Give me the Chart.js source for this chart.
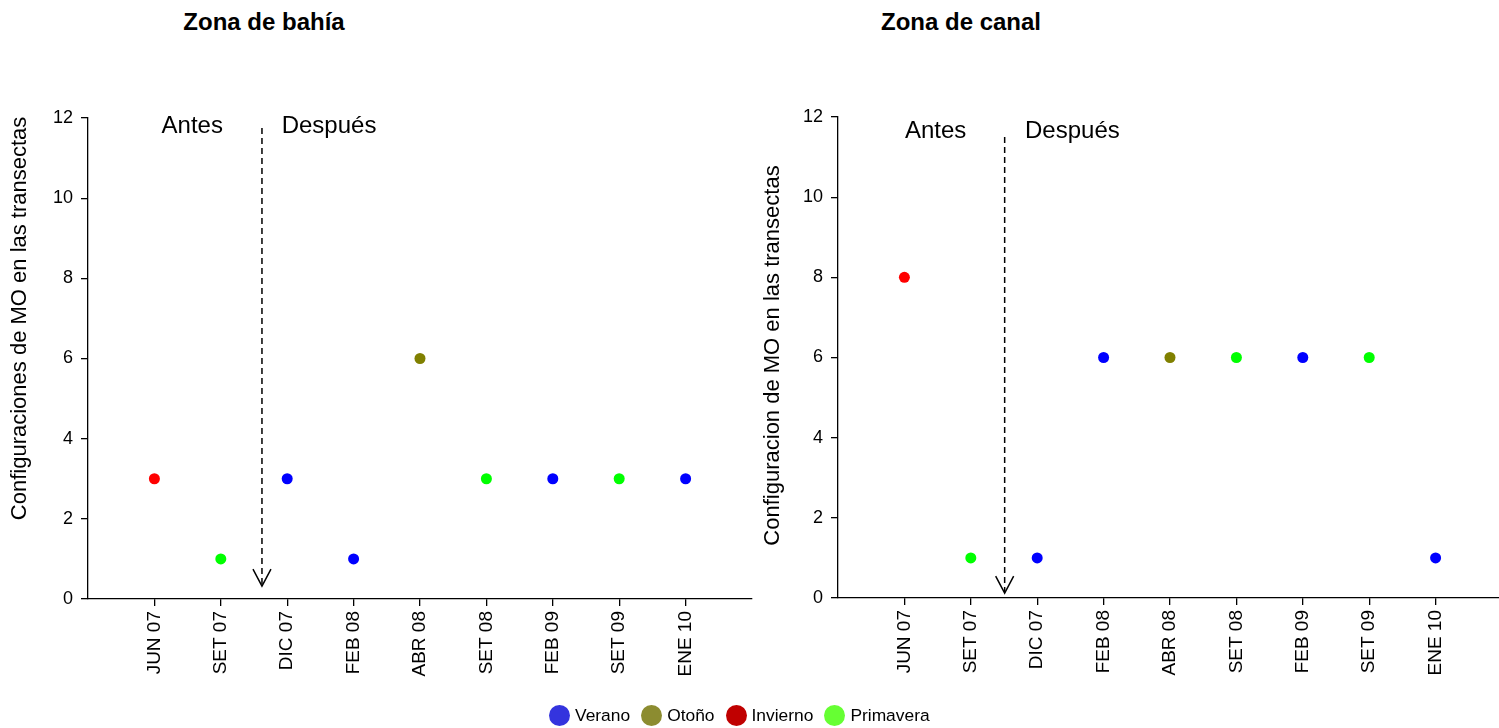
<!DOCTYPE html>
<html><head><meta charset="utf-8">
<script src="https://cdn.jsdelivr.net/npm/chart.js@4"></script>
<style>
html,body{margin:0;padding:0;background:#fff}
body{width:1499px;height:728px;overflow:hidden;position:relative;font-family:"Liberation Sans",Arial,sans-serif;color:#000}
.ttl{position:absolute;top:8px;font-weight:bold;font-size:24px;transform:translateX(-50%);white-space:nowrap}
canvas{position:absolute;top:0}
#legend{position:absolute;top:704px;left:549px;display:flex;align-items:center;font-size:17.4px;white-space:nowrap;height:22px}
#legend span.dot{display:inline-block;width:21px;height:21px;border-radius:50%;margin-right:5px}
#legend span.item{display:flex;align-items:center;margin-right:11px}
</style>
</head><body>
<div class="ttl" style="left:264px">Zona de bahía</div>
<div class="ttl" style="left:961px">Zona de canal</div>
<canvas id="c1" width="760" height="728" style="left:0px;top:1px"></canvas>
<canvas id="c2" width="760" height="728" style="left:750px;top:0px"></canvas>
<div id="legend"></div>
<script>
// ---- data ----
const categories = ['JUN 07','SET 07','DIC 07','FEB 08','ABR 08','SET 08','FEB 09','SET 09','ENE 10'];
const seasons = ['Invierno','Primavera','Verano','Verano','Otoño','Primavera','Verano','Primavera','Verano'];
const bahiaValues = [3,1,3,1,6,3,3,3,3];
const canalValues = [8,1,1,6,6,6,6,6,1];
const yTickValues = [0,2,4,6,8,10,12];
const legendSeasons = ['Verano','Otoño','Invierno','Primavera'];
const pointColors = {Verano:'#0000ff', 'Otoño':'#808000', Invierno:'#ff0000', Primavera:'#00ff00'};
const legendColors = {Verano:'#3434de', 'Otoño':'#8c8c30', Invierno:'#c00000', Primavera:'#66ff33'};

const FONT = '"Liberation Sans", Arial, sans-serif';

const annotPlugin = {
  id: 'annot',
  afterDraw(chart) {
    const o = chart.options.plugins.annot;
    const xs = chart.scales.x, ys = chart.scales.y, ctx = chart.ctx;
    ctx.save();
    // dashed arrow
    const ax = xs.getPixelForValue(o.arrowX);
    const y0 = ys.getPixelForValue(o.arrowTop), y1 = ys.getPixelForValue(o.arrowTip);
    ctx.strokeStyle = '#000'; ctx.lineWidth = 1.5;
    ctx.setLineDash([6,4]);
    ctx.beginPath(); ctx.moveTo(ax, y0); ctx.lineTo(ax, y1 - 1); ctx.stroke();
    ctx.setLineDash([]);
    ctx.beginPath(); ctx.moveTo(ax - 9, y1 - 17); ctx.lineTo(ax, y1); ctx.lineTo(ax + 9, y1 - 17); ctx.stroke();
    // texts
    ctx.fillStyle = '#000';
    ctx.font = '24px ' + FONT;
    ctx.textAlign = 'center'; ctx.textBaseline = 'middle';
    ctx.fillText('Antes', xs.getPixelForValue(o.antesX), ys.getPixelForValue(o.textY));
    ctx.fillText('Después', xs.getPixelForValue(o.despuesX), ys.getPixelForValue(o.textY));
    // y title
    ctx.translate(o.yTitleX, ys.getPixelForValue(o.yTitleCenter));
    ctx.rotate(-Math.PI/2);
    ctx.font = '22px ' + FONT;
    ctx.fillText(o.yTitle, 0, 0);
    ctx.restore();
  }
};

function makeChart(id, values, annot) {
  const pts = values.map((v, i) => ({x: i + 1, y: v}));
  const cols = seasons.map(s => pointColors[s]);
  return new Chart(document.getElementById(id), {
    type: 'scatter',
    data: { datasets: [{ data: pts, pointBackgroundColor: cols, pointBorderColor: cols, pointRadius: 5.5, pointBorderWidth: 0, pointHoverRadius: 5.5 }] },
    plugins: [annotPlugin],
    options: {
      responsive: false, animation: false, devicePixelRatio: 1,
      layout: { padding: { top: 117, right: 8, left: 0, bottom: 0 } },
      plugins: { legend: {display: false}, tooltip: {enabled: false}, title: {display: false}, annot: annot },
      scales: {
        x: {
          type: 'linear', min: 0, max: 10,
          afterBuildTicks: s => { s.ticks = categories.map((c, i) => ({value: i + 1})); },
          afterFit: s => { s.height = 130; },
          grid: { drawOnChartArea: false, drawTicks: true, tickLength: 7, color: '#000', lineWidth: 1.3 },
          border: { display: true, color: '#000', width: 1.3 },
          ticks: { autoSkip: false, minRotation: 90, maxRotation: 90, padding: 5, color: '#000',
                   font: { family: FONT, size: 19 }, callback: v => categories[v - 1] || '' }
        },
        y: {
          min: 0, max: 12,
          afterBuildTicks: s => { s.ticks = yTickValues.map(v => ({value: v})); },
          afterFit: s => { s.width = 88; },
          grid: { drawOnChartArea: false, drawTicks: true, tickLength: 7, color: '#000', lineWidth: 1.3 },
          border: { display: true, color: '#000', width: 1.3 },
          ticks: { padding: 8, color: '#000', font: { family: FONT, size: 18 } }
        }
      }
    }
  });
}

makeChart('c1', bahiaValues, { arrowX: 2.62, arrowTop: 11.75, arrowTip: 0.32, antesX: 1.57, despuesX: 3.63, textY: 11.8,
  yTitle: 'Configuraciones de MO en las transectas', yTitleX: 20, yTitleCenter: 7.0 });
makeChart('c2', canalValues, { arrowX: 2.51, arrowTop: 11.5, arrowTip: 0.12, antesX: 1.47, despuesX: 3.53, textY: 11.65,
  yTitle: 'Configuracion de MO en las transectas', yTitleX: 23, yTitleCenter: 6.05 });

// legend
const lg = document.getElementById('legend');
legendSeasons.forEach(s => {
  const it = document.createElement('span'); it.className = 'item';
  const d = document.createElement('span'); d.className = 'dot'; d.style.background = legendColors[s];
  const t = document.createElement('span'); t.textContent = s;
  it.appendChild(d); it.appendChild(t); lg.appendChild(it);
});
</script>
</body></html>
